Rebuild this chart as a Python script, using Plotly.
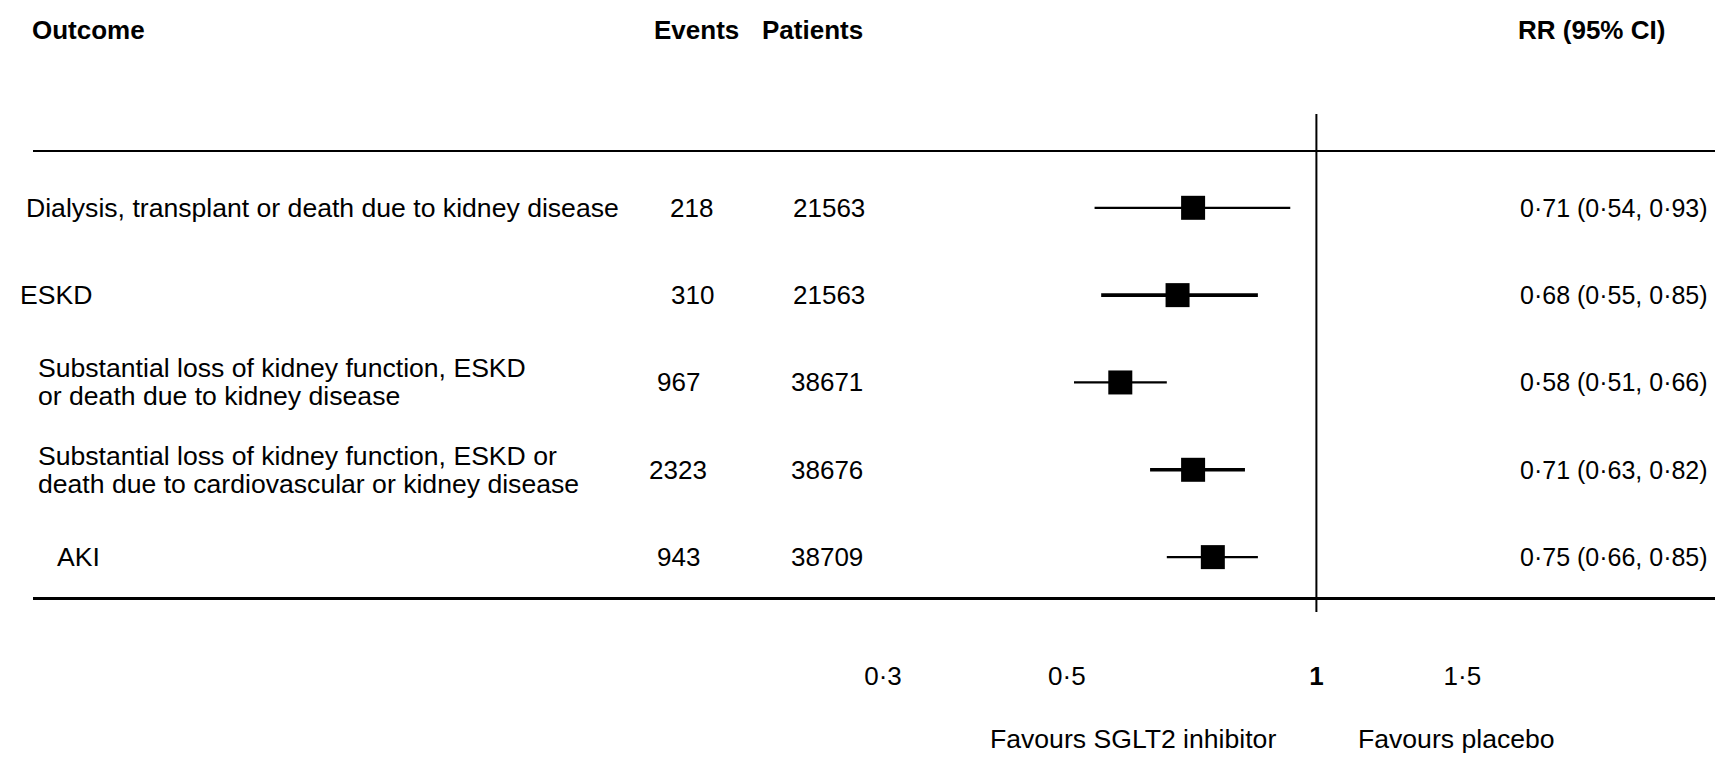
import math
import plotly.graph_objects as go

# ---------------- data ----------------
outcomes = [
    "Dialysis, transplant or death due to kidney disease",
    "ESKD",
    "Substantial loss of kidney function, ESKD<br>or death due to kidney disease",
    "Substantial loss of kidney function, ESKD or<br>death due to cardiovascular or kidney disease",
    "AKI",
]
events = [218, 310, 967, 2323, 943]
patients = [21563, 21563, 38671, 38676, 38709]
rr = [0.71, 0.68, 0.58, 0.71, 0.75]
ci_low = [0.54, 0.55, 0.51, 0.63, 0.66]
ci_high = [0.93, 0.85, 0.66, 0.82, 0.85]
tick_vals = [0.3, 0.5, 1, 1.5]
tick_text = ["0·3", "0·5", "<b>1</b>", "1·5"]
headers = ["Outcome", "Events", "Patients", "RR (95% CI)"]
favours = ["Favours SGLT2 inhibitor", "Favours placebo"]

# ---------------- layout constants (pixels) ----------------
W, H = 1720, 764
FONT = "Liberation Sans, Arial, Helvetica, sans-serif"
FS = 26
FS_LABEL = 26.6
FS_RR = 25
X_ONE = 1316.4            # pixel of RR = 1
PX_PER_LN = 360.0          # pixels per natural-log unit
ROW0_PX, ROW_STEP = 207.8, 87.33
LINE_GAP_PX = 28.0

label_left = [26, 20, 38, 38, 57]
events_cx = [691, 692, 678, 678, 678]
patients_cx = [829, 829, 827, 827, 827]
rr_left = 1520
ci_widths = [2.2, 3.6, 2.2, 3.6, 2.2]


def px(x):
    return x / W


def py(y):
    return 1 - y / H


def fmt(v):
    return f"{v:.2f}".replace(".", "·")


n = len(outcomes)
px_per_dec = PX_PER_LN * math.log(10)
xr = [-X_ONE / px_per_dec, (W - X_ONE) / px_per_dec]
y_top = -ROW0_PX / ROW_STEP
y_bot = y_top + H / ROW_STEP

fig = go.Figure()
for i in range(n):
    fig.add_trace(go.Scatter(
        x=[ci_low[i], ci_high[i]], y=[i, i], mode="lines",
        line=dict(color="black", width=ci_widths[i]),
        showlegend=False, hoverinfo="skip"))
fig.add_trace(go.Scatter(
    x=rr, y=list(range(n)), mode="markers",
    marker=dict(symbol="square", size=24, color="black", line=dict(width=0)),
    showlegend=False, hoverinfo="skip"))

ann = []


def add(text, x, y, xanchor="left", yref="y", bold=False, size=FS):
    ann.append(dict(
        text=f"<b>{text}</b>" if bold else text,
        x=x, y=y, xref="paper", yref=yref, xanchor=xanchor, yanchor="middle",
        showarrow=False, borderpad=0, borderwidth=0,
        font=dict(family=FONT, size=size, color="black")))


# headers
hy = py(30.5)
add(headers[0], px(31.6), hy, "left", "paper", True)
add(headers[1], px(696.5), hy, "center", "paper", True)
add(headers[2], px(812), hy, "center", "paper", True)
add(headers[3], px(1591.5), hy, "center", "paper", True)

# rows
gap = LINE_GAP_PX / ROW_STEP
for i in range(n):
    lines = outcomes[i].split("<br>")
    m = len(lines)
    for j, line in enumerate(lines):
        add(line, px(label_left[i]), i + (j - (m - 1) / 2) * gap, "left",
            size=FS_LABEL)
    add(str(events[i]), px(events_cx[i]), i, "center")
    add(str(patients[i]), px(patients_cx[i]), i, "center")
    add(f"{fmt(rr[i])} ({fmt(ci_low[i])}, {fmt(ci_high[i])})", px(rr_left), i,
        "left", size=FS_RR)

# favours labels
add(favours[0], px(989.6), py(739), "left", "paper", size=FS_LABEL)
add(favours[1], px(1357.5), py(739), "left", "paper", size=FS_LABEL)

shapes = [
    dict(type="line", xref="paper", yref="paper", x0=px(33), x1=px(1715),
         y0=py(151), y1=py(151), line=dict(color="black", width=2)),
    dict(type="line", xref="paper", yref="paper", x0=px(33), x1=px(1715),
         y0=py(598.5), y1=py(598.5), line=dict(color="black", width=3)),
    dict(type="line", xref="x", yref="paper", x0=1, x1=1,
         y0=py(114), y1=py(612), line=dict(color="black", width=2)),
]

fig.update_layout(
    width=W, height=H, autosize=False,
    margin=dict(l=0, r=0, t=0, b=0, pad=0),
    paper_bgcolor="white", plot_bgcolor="white",
    font=dict(family=FONT, size=FS, color="black"),
    xaxis=dict(type="log", range=xr, domain=[0, 1], anchor="free",
               position=py(658), tickmode="array", tickvals=tick_vals,
               ticktext=tick_text, ticks="", showline=False, showgrid=False,
               zeroline=False, automargin=False,
               tickfont=dict(family=FONT, size=FS, color="black")),
    yaxis=dict(range=[y_bot, y_top], domain=[0, 1], visible=False,
               showgrid=False, zeroline=False, automargin=False),
    annotations=ann, shapes=shapes, showlegend=False,
)

fig.write_html("out.html")
